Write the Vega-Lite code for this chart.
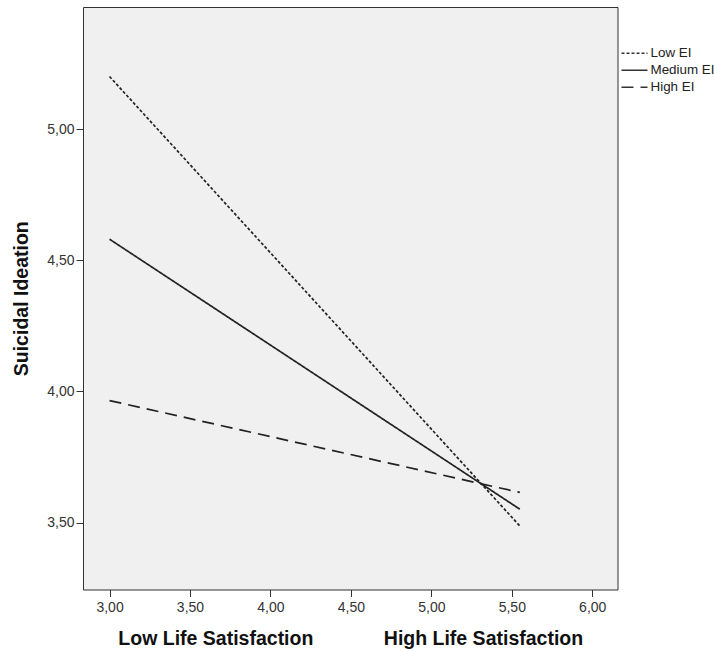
{
  "$schema": "https://vega.github.io/schema/vega-lite/v6.json",
  "autosize": {"type": "none"},
  "width": 534.5,
  "height": 582.5,
  "padding": {"left": 83, "top": 7, "right": 96.5, "bottom": 61.5},
  "background": "white",
  "config": {
    "font": "Liberation Sans",
    "view": {"stroke": "#333333", "strokeWidth": 1, "fill": "#f0f0f0"},
    "axis": {"domain": false, "grid": false, "tickColor": "#333333", "tickSize": 7, "labelColor": "#333333", "labelFont": "Liberation Sans", "labelFontSize": 14, "titleFont": "Liberation Sans", "titleFontWeight": "bold", "titleFontSize": 19.5, "titleColor": "#111111"}
  },
  "data": {
    "values": [
      {"ls": 3.0, "si": 5.2, "group": "Low EI"},
      {"ls": 5.55, "si": 3.487, "group": "Low EI"},
      {"ls": 3.0, "si": 4.58, "group": "Medium EI"},
      {"ls": 5.55, "si": 3.551, "group": "Medium EI"},
      {"ls": 3.0, "si": 3.965, "group": "High EI"},
      {"ls": 5.55, "si": 3.615, "group": "High EI"}
    ]
  },
  "mark": {"type": "line", "color": "#222222", "strokeWidth": 1.7},
  "encoding": {
    "x": {
      "field": "ls", "type": "quantitative",
      "scale": {"domain": [2.835, 6.157], "nice": false, "zero": false},
      "axis": {"values": [3, 3.5, 4, 4.5, 5, 5.5, 6], "labelExpr": "replace(format(datum.value, '.2f'), '.', ',')", "labelPadding": 4, "titlePadding": 15,
        "title": "Low Life Satisfaction\u00a0\u00a0\u00a0\u00a0\u00a0\u00a0\u00a0\u00a0\u00a0\u00a0\u00a0\u00a0\u00a0High Life Satisfaction"}
    },
    "y": {
      "field": "si", "type": "quantitative",
      "scale": {"domain": [3.245, 5.465], "nice": false, "zero": false},
      "axis": {"values": [3.5, 4, 4.5, 5], "labelExpr": "replace(format(datum.value, '.2f'), '.', ',')", "labelPadding": 2, "titlePadding": 15, "title": "Suicidal Ideation"}
    },
    "detail": {"field": "group"},
    "strokeDash": {
      "field": "group", "type": "nominal",
      "scale": {"domain": ["Low EI", "Medium EI", "High EI"], "range": [[3, 2], [1, 0], [12, 7]]},
      "legend": {
        "title": null, "orient": "none", "legendX": 537.5, "legendY": 38,
        "symbolType": "stroke", "symbolSize": 676, "symbolStrokeColor": "#333333", "symbolStrokeWidth": 1.5,
        "labelFontSize": 13.4, "labelColor": "#222222", "labelFont": "Liberation Sans", "labelOffset": 2,
        "clipHeight": 16.7, "rowPadding": 0
      }
    }
  }
}
